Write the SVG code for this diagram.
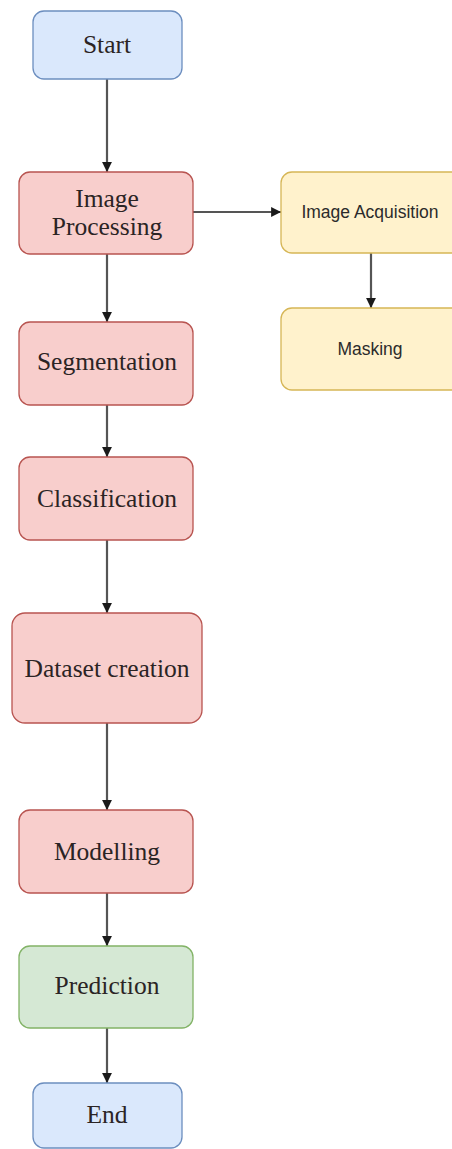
<svg xmlns="http://www.w3.org/2000/svg" width="452" height="1149" viewBox="0 0 452 1149">
<style>
.blue{fill:#dae8fc;stroke:#6c8ebf;stroke-width:1.3}
.red{fill:#f8cecc;stroke:#b85450;stroke-width:1.3}
.yel{fill:#fff2cc;stroke:#d6b656;stroke-width:1.3}
.grn{fill:#d5e8d4;stroke:#82b366;stroke-width:1.3}
.t{font-family:"Liberation Serif","Times New Roman",serif;font-size:25.5px;fill:#2b2424;text-anchor:middle}
.s{font-family:"Liberation Sans",Arial,sans-serif;font-size:17.5px;fill:#2b2b2b;text-anchor:middle}
.c{fill:none;stroke:#555555;stroke-width:2.2;marker-end:url(#ah)}
</style>
<defs>
<marker id="ah" viewBox="0 0 10 10" refX="10" refY="5" markerWidth="4.5" markerHeight="4.5" markerUnits="strokeWidth" orient="auto">
<path d="M0,0 L10,5 L0,10 Z" fill="#1a1a1a"/>
</marker>
</defs>
<rect width="452" height="1149" fill="#ffffff"/>
<g id="connectors">
<line class="c" x1="107" y1="79" x2="107" y2="172"/>
<line class="c" x1="193" y1="212" x2="281" y2="212"/>
<line class="c" x1="371" y1="253" x2="371" y2="308"/>
<line class="c" x1="107" y1="254" x2="107" y2="322"/>
<line class="c" x1="107" y1="405" x2="107" y2="457"/>
<line class="c" x1="107" y1="540" x2="107" y2="613"/>
<line class="c" x1="107" y1="723" x2="107" y2="810"/>
<line class="c" x1="107" y1="893" x2="107" y2="946"/>
<line class="c" x1="107" y1="1028" x2="107" y2="1083"/>
</g>
<g id="start"><rect class="blue" x="33" y="11" width="149" height="68" rx="11"/><text class="t" x="107" y="53">Start</text></g>
<g id="image-processing"><rect class="red" x="19" y="172" width="174" height="82" rx="11"/><text class="t" x="107" y="207">Image</text><text class="t" x="107" y="235">Processing</text></g>
<g id="image-acquisition"><rect class="yel" x="281" y="172" width="190" height="81" rx="11"/><text class="s" x="370" y="218">Image Acquisition</text></g>
<g id="masking"><rect class="yel" x="281" y="308" width="190" height="82" rx="11"/><text class="s" x="370" y="355">Masking</text></g>
<g id="segmentation"><rect class="red" x="19" y="322" width="174" height="83" rx="11"/><text class="t" x="107" y="370">Segmentation</text></g>
<g id="classification"><rect class="red" x="19" y="457" width="174" height="83" rx="11"/><text class="t" x="107" y="507">Classification</text></g>
<g id="dataset-creation"><rect class="red" x="12" y="613" width="190" height="110" rx="13"/><text class="t" x="107" y="677">Dataset creation</text></g>
<g id="modelling"><rect class="red" x="19" y="810" width="174" height="83" rx="11"/><text class="t" x="107" y="860">Modelling</text></g>
<g id="prediction"><rect class="grn" x="19" y="946" width="174" height="82" rx="11"/><text class="t" x="107" y="994">Prediction</text></g>
<g id="end"><rect class="blue" x="33" y="1083" width="149" height="65" rx="11"/><text class="t" x="107" y="1123">End</text></g>
</svg>
